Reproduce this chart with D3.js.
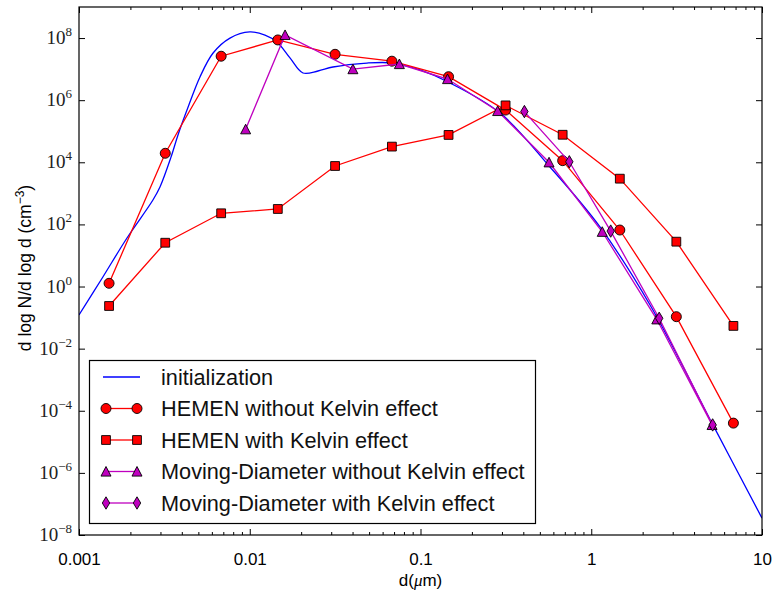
<!DOCTYPE html>
<html>
<head>
<meta charset="utf-8">
<script src="https://cdn.jsdelivr.net/npm/d3@7"></script>
<style>
  body { margin: 0; background: #fff; }
  svg { display: block; }
</style>
</head>
<body>
<div id="chart"></div>
<script>
// values: d in micrometres, dlogN/dlogd in cm^-3
const initD = [0.001, 0.00138, 0.00191, 0.00271, 0.00298, 0.00346, 0.0038, 0.00429, 0.00511,
  0.0061, 0.00766, 0.01, 0.01228, 0.01444, 0.0172, 0.0205, 0.0251, 0.0307, 0.0486,
  0.069, 0.0993, 0.145, 0.292, 0.573, 1.125, 2.21, 5.16, 10];
const initN = [0.121, 2.03, 36.5, 611, 1600, 1.48e4, 7.6e4, 4.8e5, 5.6e6,
  3.3e7, 1.0e8, 1.57e8, 1.25e8, 7.5e7, 2.3e7, 7.5e6, 8.7e6, 1.17e7, 1.57e7,
  1.57e7, 9.4e6, 3.85e6, 3.9e5, 7060, 82.6, 0.255, 3.5e-5, 3.5e-8];

const hemenD = [0.0015, 0.0032, 0.0068, 0.0146, 0.0316, 0.068, 0.146, 0.315, 0.68, 1.47, 3.15, 6.8];
const hemenNoKelvin = [1.27, 1.95e4, 2.6e7, 8.7e7, 3.0e7, 1.8e7, 5.7e6, 4.8e5, 1.13e4, 66, 0.107, 4e-5];
const hemenKelvin = [0.236, 25.7, 228, 314, 7600, 3.2e4, 7.6e4, 6.8e5, 7.7e4, 2970, 27.8, 0.054];

const mdD = [0.00946, 0.0161, 0.0402, 0.0752, 0.144, 0.283, 0.566, 1.16, 2.42, 5.1];
const mdNoKelvin = [1.16e5, 1.26e8, 1.0e7, 1.46e7, 4.8e6, 4.5e5, 1.0e4, 58, 0.088, 3.5e-5];

const mdKelvinD = [0.406, 0.744, 1.30, 2.50, 5.14];
const mdKelvin = [4.3e5, 1.04e4, 61, 0.095, 3.5e-5];

const xMajor = [0.001, 0.01, 0.1, 1, 10];
const xMajorLabels = ['0.001', '0.01', '0.1', '1', '10'];
const yExponents = [-8, -6, -4, -2, 0, 2, 4, 6, 8];

const legendLabels = [
  'initialization',
  'HEMEN without Kelvin effect',
  'HEMEN with Kelvin effect',
  'Moving-Diameter without Kelvin effect',
  'Moving-Diameter with Kelvin effect'
];

(function () {

  const margin = { top: 7, right: 12, bottom: 61, left: 79 };
  const width = 774 - margin.left - margin.right;
  const height = 596 - margin.top - margin.bottom;

  const svgRoot = d3.select('#chart').append('svg')
    .attr('width', 774)
    .attr('height', 596);

  const svg = svgRoot.append('g')
    .attr('transform', 'translate(' + margin.left + ',' + margin.top + ')');

  const x = d3.scaleLog().domain([0.001, 10]).range([0, width]);
  const y = d3.scaleLog().domain([1e-8, 1e9]).range([height, 0]);

  svg.append('clipPath').attr('id', 'plotclip')
    .append('rect').attr('width', width).attr('height', height);

  // marker shapes (matplotlib-ish o, s, ^, d)
  const circlePath = d3.symbol(d3.symbolCircle, Math.PI * 25)();
  const squarePath = 'M-4.4,-4.4H4.4V4.4H-4.4Z';
  const trianglePath = 'M0,-5L5,4.6L-5,4.6Z';
  const diamondPath = 'M0,-6.2L3.7,0L0,6.2L-3.7,0Z';

  const line = d3.line()
    .x(d => x(d[0]))
    .y(d => y(d[1]));

  const smooth = d3.line()
    .x(d => x(d[0]))
    .y(d => y(d[1]))
    .curve(d3.curveCatmullRom.alpha(0.5));

  const plot = svg.append('g').attr('clip-path', 'url(#plotclip)');

  // initialization curve
  plot.append('path')
    .datum(initD.map((d, i) => [d, initN[i]]))
    .attr('d', smooth)
    .attr('fill', 'none')
    .attr('stroke', '#0000ff')
    .attr('stroke-width', 1.3);

  function drawSeries (xs, ys, color, shape) {
    const pts = xs.map((d, i) => [d, ys[i]]);
    const g = plot.append('g');
    g.append('path')
      .datum(pts)
      .attr('d', line)
      .attr('fill', 'none')
      .attr('stroke', color)
      .attr('stroke-width', 1.3);
    g.selectAll('.marker')
      .data(pts)
      .join('path')
      .attr('class', 'marker')
      .attr('transform', d => 'translate(' + x(d[0]) + ',' + y(d[1]) + ')')
      .attr('d', shape)
      .attr('fill', color)
      .attr('stroke', '#000')
      .attr('stroke-width', 0.9);
  }

  drawSeries(hemenD, hemenNoKelvin, '#ff0000', circlePath);
  drawSeries(hemenD, hemenKelvin, '#ff0000', squarePath);
  drawSeries(mdD, mdNoKelvin, '#bf00bf', trianglePath);
  drawSeries(mdKelvinD, mdKelvin, '#bf00bf', diamondPath);

  // axes, ticks pointing inward
  const xMinor = x.ticks().filter(v => xMajor.indexOf(v) < 0);

  const xAxis = d3.axisBottom(x)
    .tickValues(xMajor)
    .tickFormat((d, i) => xMajorLabels[i])
    .tickSizeInner(-6)
    .tickSizeOuter(0)
    .tickPadding(18);

  const gx = svg.append('g')
    .attr('class', 'axis x-axis')
    .attr('transform', 'translate(0,' + height + ')')
    .call(xAxis);
  gx.selectAll('text')
    .attr('font-family', '"Liberation Sans", Arial, sans-serif')
    .attr('font-size', 17)
    .attr('fill', '#000');

  svg.append('g')
    .attr('transform', 'translate(0,' + height + ')')
    .call(d3.axisBottom(x).tickValues(xMinor).tickFormat('').tickSizeInner(-3).tickSizeOuter(0));

  svg.append('g')
    .call(d3.axisTop(x).tickValues(xMajor).tickFormat('').tickSizeInner(-6).tickSizeOuter(0));
  svg.append('g')
    .call(d3.axisTop(x).tickValues(xMinor).tickFormat('').tickSizeInner(-3).tickSizeOuter(0));

  const yTicks = yExponents.map(e => Math.pow(10, e));

  svg.append('g')
    .call(d3.axisLeft(y).tickValues(yTicks).tickFormat('').tickSizeInner(-6).tickSizeOuter(0));
  svg.append('g')
    .attr('transform', 'translate(' + width + ',0)')
    .call(d3.axisRight(y).tickValues(yTicks).tickFormat('').tickSizeInner(-6).tickSizeOuter(0));

  svg.selectAll('.domain').remove();
  svg.selectAll('.tick line').attr('stroke', '#000').attr('stroke-width', 1);

  // y tick labels as 10^n
  const yLabels = svg.append('g')
    .selectAll('text')
    .data(yExponents)
    .join('text')
    .attr('x', -7)
    .attr('y', d => y(Math.pow(10, d)) + 6)
    .attr('text-anchor', 'end')
    .attr('font-family', '"Liberation Serif", "DejaVu Serif", serif')
    .attr('font-size', 19)
    .attr('fill', '#222');
  yLabels.append('tspan').text('10');
  yLabels.append('tspan')
    .attr('dy', -8)
    .attr('font-size', 13)
    .text(d => String(d).replace('-', '\u2212'));

  // frame
  svg.append('rect')
    .attr('width', width)
    .attr('height', height)
    .attr('fill', 'none')
    .attr('stroke', '#000')
    .attr('stroke-width', 1.2);

  // axis labels
  const xLabel = svg.append('text')
    .attr('x', width / 2)
    .attr('y', height + 51)
    .attr('text-anchor', 'middle')
    .attr('font-family', '"Liberation Sans", Arial, sans-serif')
    .attr('font-size', 17);
  xLabel.append('tspan').text('d(');
  xLabel.append('tspan').attr('font-style', 'italic').attr('font-family', '"Liberation Serif", serif').text('\u03bc');
  xLabel.append('tspan').text('m)');

  const yLabel = svg.append('text')
    .attr('transform', 'translate(' + (31 - margin.left) + ',' + (height / 2 - 3) + ') rotate(-90)')
    .attr('text-anchor', 'middle')
    .attr('font-family', '"Liberation Sans", Arial, sans-serif')
    .attr('font-size', 17.5);
  yLabel.append('tspan').text('d log N/d log d (cm');
  yLabel.append('tspan').attr('dy', -7).attr('font-size', 12).text('\u22123');
  yLabel.append('tspan').attr('dy', 7).text(')');

  // legend
  const legend = svgRoot.append('g');
  legend.append('rect')
    .attr('x', 89.5)
    .attr('y', 360.5)
    .attr('width', 446)
    .attr('height', 163)
    .attr('fill', '#fff')
    .attr('stroke', '#000')
    .attr('stroke-width', 1.2);

  const legendStyles = [
    { color: '#0000ff', shape: null },
    { color: '#ff0000', shape: circlePath },
    { color: '#ff0000', shape: squarePath },
    { color: '#bf00bf', shape: trianglePath },
    { color: '#bf00bf', shape: diamondPath }
  ];

  const rows = legend.selectAll('.row')
    .data(legendLabels)
    .join('g')
    .attr('class', 'row')
    .attr('transform', (d, i) => 'translate(0,' + (377 + i * 31.5) + ')');

  rows.append('line')
    .attr('x1', (d, i) => i === 0 ? 103 : 106)
    .attr('x2', (d, i) => i === 0 ? 140 : 137)
    .attr('stroke', (d, i) => legendStyles[i].color)
    .attr('stroke-width', 1.3);

  rows.each(function (d, i) {
    const s = legendStyles[i];
    if (!s.shape) return;
    d3.select(this).selectAll('.lm')
      .data([106, 137])
      .join('path')
      .attr('class', 'lm')
      .attr('transform', v => 'translate(' + v + ',0)')
      .attr('d', s.shape)
      .attr('fill', s.color)
      .attr('stroke', '#000')
      .attr('stroke-width', 0.9);
  });

  rows.append('text')
    .attr('x', 161)
    .attr('y', 7.5)
    .attr('font-family', '"Liberation Sans", Arial, sans-serif')
    .attr('font-size', 21.7)
    .attr('fill', '#111')
    .text(d => d);

})();
</script>
</body>
</html>
